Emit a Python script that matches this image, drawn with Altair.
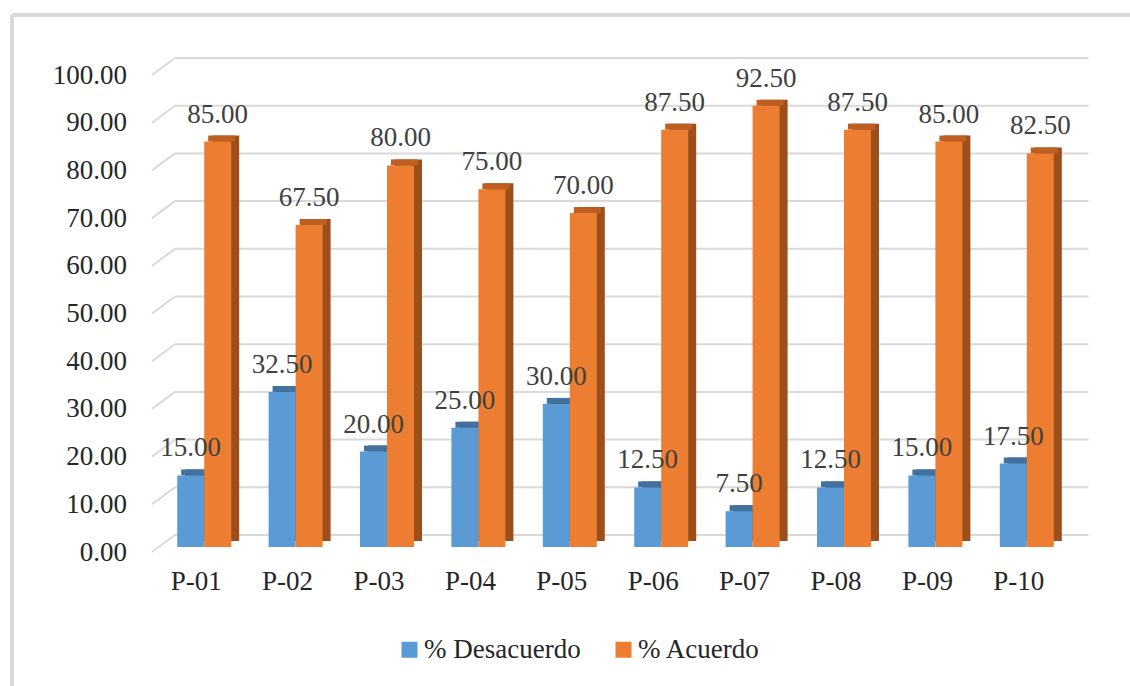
import altair as alt
import pandas as pd

categories = ["P-01", "P-02", "P-03", "P-04", "P-05", "P-06", "P-07", "P-08", "P-09", "P-10"]
desacuerdo = [15.00, 32.50, 20.00, 25.00, 30.00, 12.50, 7.50, 12.50, 15.00, 17.50]
acuerdo = [85.00, 67.50, 80.00, 75.00, 70.00, 87.50, 92.50, 87.50, 85.00, 82.50]
series = ["% Desacuerdo", "% Acuerdo"]
y_ticks = [0, 10, 20, 30, 40, 50, 60, 70, 80, 90, 100]

BLUE = "#5B9BD5"
ORANGE = "#ED7D31"
BLUE_TOP = "#41719C"
BLUE_SIDE = "#2F5F8C"
ORANGE_TOP = "#BF5E22"
ORANGE_SIDE = "#9C4F1B"
GRID = "#D9D9D9"
FONT = "Liberation Serif"
TXT = "#262626"
FS = 27

W, H = 914, 477
BAR_W = 27
DX, DY = 8, -6

df = pd.DataFrame({
    "cat": categories * 2,
    "serie": [series[0]] * len(categories) + [series[1]] * len(categories),
    "val": desacuerdo + acuerdo,
})
df["label"] = df["val"].map(lambda v: f"{v:.2f}")
grid_df = pd.DataFrame({"t": y_ticks})

x_enc = alt.X("cat:N", sort=categories,
              scale=alt.Scale(paddingInner=0, paddingOuter=0),
              axis=alt.Axis(title=None, domain=False, ticks=False, labelAngle=0,
                            labelFont=FONT, labelFontSize=FS, labelColor=TXT,
                            labelOffset=-8, labelPadding=21))
y_scale = alt.Scale(domain=[0, 100], nice=False, zero=True)
y_axis = alt.Axis(title=None, domain=False, ticks=False, grid=False,
                  values=y_ticks, format=".2f",
                  labelFont=FONT, labelFontSize=FS, labelColor=TXT,
                  labelPadding=32, labelOffset=5)
y_enc = alt.Y("val:Q", scale=y_scale, axis=y_axis)

base = alt.Chart(df)

# back-wall gridlines
grid_back = alt.Chart(grid_df).mark_rule(color=GRID, strokeWidth=2, yOffset=-12).encode(
    x=alt.value(16.5), x2=alt.value(930),
    y=alt.Y("t:Q", scale=y_scale, axis=y_axis),
)
grid_side = alt.Chart(grid_df).mark_rule(color=GRID, strokeWidth=2, yOffset=5, y2Offset=-12).encode(
    x=alt.value(-6.5), x2=alt.value(16.5),
    y=alt.Y("t:Q", scale=y_scale, axis=y_axis),
    y2="t:Q",
)

def bar_layers(serie, off, front, top, side):
    d = base.transform_filter(alt.datum.serie == serie)
    side_l = d.mark_bar(width=BAR_W, xOffset=off + DX, yOffset=DY, y2Offset=DY, color=side).encode(
        x=x_enc, y=y_enc, y2=alt.datum(0))
    top_l = d.mark_bar(width=BAR_W, xOffset=off + DX / 2, yOffset=DY, color=top).encode(
        x=x_enc, y=y_enc, y2=alt.Y2("val:Q"))
    front_l = d.mark_bar(width=BAR_W, xOffset=off).encode(
        x=x_enc, y=y_enc,
        color=alt.Color("serie:N", scale=alt.Scale(domain=series, range=[BLUE, ORANGE]),
                        legend=alt.Legend(title=None, orient="none", legendX=237.5, legendY=566,
                                          direction="horizontal", symbolType="square",
                                          symbolSize=256, symbolStrokeWidth=0,
                                          labelFont=FONT, labelFontSize=FS, labelColor=TXT,
                                          labelOffset=1, columnPadding=29)))
    return [side_l, top_l, front_l]

def text_layer(serie, off):
    return base.transform_filter(alt.datum.serie == serie).mark_text(
        xOffset=off, dy=-19, baseline="alphabetic", font=FONT, fontSize=FS, color="#404040"
    ).encode(x=x_enc, y=y_enc, text="label:N")

border_left = alt.Chart(grid_df).mark_rule(color=GRID, strokeWidth=2.5).encode(
    x=alt.value(-146.5), y=alt.value(-55), y2=alt.value(620))
border_top = alt.Chart(grid_df).mark_rule(color=GRID, strokeWidth=2.5).encode(
    x=alt.value(-146.5), x2=alt.value(980), y=alt.value(-55))

layers = [grid_back, grid_side]
layers += bar_layers(series[0], -BAR_W / 2, BLUE, BLUE_TOP, BLUE_SIDE)
layers += bar_layers(series[1], BAR_W / 2, ORANGE, ORANGE_TOP, ORANGE_SIDE)
layers += [text_layer(series[0], -BAR_W / 2), text_layer(series[1], BAR_W / 2)]
layers += [border_left, border_top]

chart = alt.layer(*layers).properties(
    width=W, height=H,
    autosize=alt.AutoSizeParams(type="none"),
    padding={"left": 158.5, "top": 70, "right": 57.5, "bottom": 139},
    background="white",
).configure(font=FONT).configure_view(stroke=None).configure_text(font=FONT).configure_legend(labelFont=FONT)

chart.save("out.html", embed_options={"renderer": "svg", "actions": False})
